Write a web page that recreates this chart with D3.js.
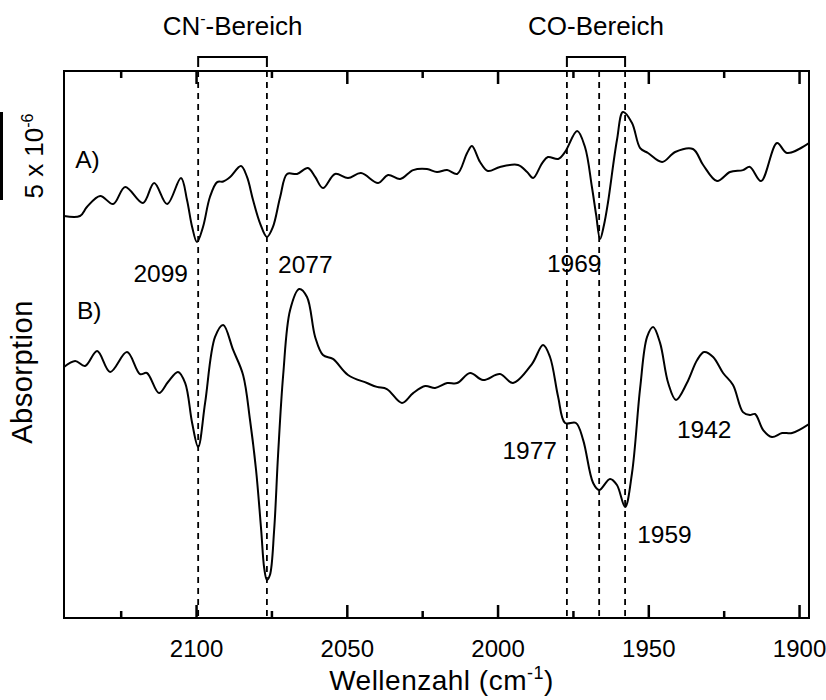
<!DOCTYPE html>
<html lang="de">
<head>
<meta charset="utf-8">
<script src="https://d3js.org/d3.v7.min.js"></script>
<title>IR-Differenzspektren</title>
<style>
  body { margin: 0; background: #fff; }
  text { font-family: "Liberation Sans", Arial, sans-serif; fill: #000; }
</style>
</head>
<body>
<div id="plot"></div>
<script>
// spectra: [wavenumber (cm-1), absorbance (x 10^-6, offset for stacking)]
var specA = [
  [2143.8,22.84],[2138.5,22.84],[2136.2,23.35],[2131.8,23.98],[2127.5,23.52],[2123.5,24.49],
  [2117.6,23.58],[2113.9,24.72],[2109.6,23.52],[2105.0,25.00],[2103.0,23.75],[2101.3,22.22],
  [2099.7,21.36],[2097.7,22.22],[2095.4,23.92],[2093.0,24.77],[2091.0,24.80],[2088.7,25.06],
  [2085.1,25.68],[2083.1,25.06],[2081.1,23.75],[2078.8,22.44],[2076.5,21.65],[2074.5,22.22],
  [2072.1,23.92],[2069.8,25.23],[2066.5,25.23],[2062.9,25.57],[2060.5,25.06],[2057.9,24.43],
  [2053.9,25.23],[2049.6,25.00],[2045.3,25.28],[2039.6,24.72],[2036.3,25.17],[2032.3,24.94],
  [2028.0,25.45],[2023.4,25.51],[2020.1,25.34],[2016.7,25.45],[2013.4,25.23],[2010.1,26.42],
  [2008.5,26.82],[2005.8,25.91],[2003.2,25.40],[1999.2,25.63],[1993.2,25.74],[1990.2,25.34],
  [1988.2,25.00],[1985.2,25.85],[1983.3,26.19],[1979.9,26.08],[1977.6,26.48],[1973.6,27.67],
  [1971.0,26.76],[1968.7,24.49],[1967.3,22.90],[1966.0,21.53],[1964.7,22.33],[1963.4,23.58],
  [1960.4,27.16],[1958.4,28.75],[1955.4,28.13],[1952.7,26.70],[1950.1,26.42],[1945.4,25.91],
  [1941.1,26.48],[1935.2,26.65],[1931.8,25.74],[1927.2,24.83],[1922.9,25.34],[1918.6,25.45],
  [1916.3,25.63],[1912.6,24.83],[1907.3,26.99],[1904.0,26.42],[1896.7,26.99]
];
var specB = [
  [2143.8,14.26],[2140.1,14.60],[2136.8,14.32],[2132.8,15.17],[2128.5,13.98],[2122.9,15.11],
  [2118.6,13.86],[2116.3,13.92],[2112.3,12.78],[2109.3,13.41],[2106.0,13.98],[2103.6,13.35],
  [2101.3,11.08],[2099.3,9.72],[2097.0,12.22],[2093.7,15.97],[2091.0,16.65],[2087.7,15.23],
  [2084.4,13.81],[2082.1,11.25],[2080.1,8.41],[2078.4,5.00],[2077.4,2.84],[2076.5,2.16],
  [2075.5,2.44],[2074.1,5.00],[2072.8,9.26],[2071.1,13.81],[2068.8,17.50],[2065.8,18.69],
  [2063.2,18.24],[2060.5,15.97],[2057.9,14.94],[2054.6,14.72],[2049.6,13.81],[2043.3,13.35],
  [2040.0,13.13],[2036.7,13.01],[2031.7,12.22],[2028.0,12.78],[2024.0,13.18],[2020.7,13.07],
  [2016.7,13.35],[2013.4,13.35],[2009.1,13.92],[2004.8,13.52],[1999.2,13.86],[1994.9,13.35],
  [1988.6,14.43],[1984.9,15.51],[1982.6,14.83],[1979.9,12.56],[1977.6,11.08],[1974.0,11.08],
  [1971.6,10.11],[1968.3,7.67],[1966.3,7.27],[1962.7,7.90],[1960.4,7.56],[1957.7,6.31],
  [1955.4,8.24],[1952.7,13.07],[1950.4,15.97],[1948.4,16.53],[1946.1,15.63],[1943.4,13.35],
  [1940.8,12.39],[1937.2,13.35],[1933.8,14.66],[1931.5,15.11],[1928.5,14.83],[1925.2,13.92],
  [1921.9,13.24],[1918.6,11.70],[1916.3,11.53],[1914.6,11.59],[1911.9,10.68],[1909.0,10.28],
  [1905.6,10.51],[1902.3,10.51],[1896.7,11.02]
];

var markerLines = [2099.3, 2076.5, 1977.0, 1966.3, 1957.7];
var regions = [
  {name: "CN", sup: "-", rest: "-Bereich", from: 2099.3, to: 2076.5},
  {name: "CO", sup: "", rest: "-Bereich", from: 1977.0, to: 1957.7}
];
var peakLabels = [
  {text: "2099", w: 2102.7, a: 19.09, anchor: "end"},
  {text: "2077", w: 2072.8, a: 19.60, anchor: "start"},
  {text: "1969", w: 1983.6, a: 19.66, anchor: "start"},
  {text: "1977", w: 1980.3, a: 9.03, anchor: "end"},
  {text: "1942", w: 1940.5, a: 10.23, anchor: "start"},
  {text: "1959", w: 1953.7, a: 4.26, anchor: "start"}
];
var traceLabels = [
  {text: "A)", w: 2140.1, a: 25.57},
  {text: "B)", w: 2139.5, a: 16.99}
];
var majorTicks = [2100, 2050, 2000, 1950, 1900];
var minorTicks = [2125, 2075, 2025, 1975, 1925];
var scaleBar = [23.75, 28.75];   // 5 x 10^-6

var margin = {top: 71, right: 17, bottom: 82, left: 64},
    width = 826 - margin.left - margin.right,
    height = 700 - margin.top - margin.bottom;

var svg = d3.select("#plot").append("svg")
    .attr("width", 826).attr("height", 700);
var g = svg.append("g")
    .attr("transform", "translate(" + margin.left + "," + margin.top + ")");

var x = d3.scaleLinear().domain([2143.8, 1896.7]).range([0, width]);
var y = d3.scaleLinear().domain([0, 31.08]).range([height, 0]);

// ticks, pointing inwards on bottom and top
function tickAxis(axis, vals, size) {
  return axis(x).tickValues(vals).tickSize(-size).tickFormat("");
}
var bottomMajor = g.append("g").attr("transform", "translate(0," + height + ")")
    .call(d3.axisBottom(x).tickValues(majorTicks).tickSize(-13).tickPadding(22).tickFormat(d3.format("d")));
g.append("g").attr("transform", "translate(0," + height + ")").call(tickAxis(d3.axisBottom, minorTicks, 7));
g.append("g").call(tickAxis(d3.axisTop, majorTicks, 13));
g.append("g").call(tickAxis(d3.axisTop, minorTicks, 7));
g.selectAll(".domain").remove();
g.selectAll(".tick line").attr("stroke", "#000").attr("stroke-width", 2.5);
bottomMajor.selectAll("text").attr("font-size", 24)
    .style("font-family", "'Liberation Sans', Arial, sans-serif");

// dashed marker lines
g.selectAll(".marker").data(markerLines).enter().append("line")
    .attr("x1", function(d){ return x(d); }).attr("x2", function(d){ return x(d); })
    .attr("y1", 0).attr("y2", height)
    .attr("stroke", "#000").attr("stroke-width", 1.8).attr("stroke-dasharray", "6,5");

// spectra
var line = d3.line()
    .x(function(d){ return x(d[0]); })
    .y(function(d){ return y(d[1]); })
    .curve(d3.curveCatmullRom.alpha(0.5));
g.append("clipPath").attr("id", "clip").append("rect").attr("width", width).attr("height", height);
[specA, specB].forEach(function(s){
  g.append("path").datum(s).attr("d", line).attr("clip-path", "url(#clip)")
    .attr("fill", "none").attr("stroke", "#000").attr("stroke-width", 2);
});

// frame
g.append("rect").attr("width", width).attr("height", height)
    .attr("fill", "none").attr("stroke", "#000").attr("stroke-width", 2);

// region brackets above the plot
regions.forEach(function(r){
  var x0 = x(r.from), x1 = x(r.to);
  g.append("path")
    .attr("d", "M" + x0 + ",-4V-14H" + x1 + "V-4")
    .attr("fill", "none").attr("stroke", "#000").attr("stroke-width", 2);
  var t = g.append("text").attr("x", (x0 + x1) / 2).attr("y", -36)
    .attr("text-anchor", "middle").attr("font-size", 26);
  t.append("tspan").text(r.name);
  if (r.sup) {
    t.append("tspan").attr("dy", -11).attr("font-size", 16).text(r.sup);
    t.append("tspan").attr("dy", 11).text(r.rest);
  } else {
    t.append("tspan").text(r.rest);
  }
});

// peak and trace labels
g.selectAll(".peak").data(peakLabels).enter().append("text")
    .attr("x", function(d){ return x(d.w); }).attr("y", function(d){ return y(d.a); })
    .attr("text-anchor", function(d){ return d.anchor; })
    .attr("font-size", 24.5).text(function(d){ return d.text; });
g.selectAll(".trace").data(traceLabels).enter().append("text")
    .attr("x", function(d){ return x(d.w); }).attr("y", function(d){ return y(d.a); })
    .attr("font-size", 24.5).text(function(d){ return d.text; });

// axis titles
var xt = g.append("text").attr("x", width / 2 + 5).attr("y", height + 72)
    .attr("text-anchor", "middle").attr("font-size", 28).attr("letter-spacing", 0.5);
xt.append("tspan").text("Wellenzahl (cm");
xt.append("tspan").attr("dy", -11).attr("font-size", 18).text("-1");
xt.append("tspan").attr("dy", 11).text(")");

svg.append("text").attr("transform", "translate(32,372) rotate(-90)")
    .attr("text-anchor", "middle").attr("font-size", 29).attr("letter-spacing", 0.5)
    .text("Absorption");

// scale bar
svg.append("line").attr("x1", 1.5).attr("x2", 1.5)
    .attr("y1", margin.top + y(scaleBar[1])).attr("y2", margin.top + y(scaleBar[0]))
    .attr("stroke", "#000").attr("stroke-width", 3);
var sb = svg.append("text")
    .attr("transform", "translate(43," + (margin.top + y((scaleBar[0] + scaleBar[1]) / 2)) + ") rotate(-90)")
    .attr("text-anchor", "middle").attr("font-size", 26);
sb.append("tspan").text("5 x 10");
sb.append("tspan").attr("dy", -10).attr("font-size", 16).text("-6");
</script>
</body>
</html>
